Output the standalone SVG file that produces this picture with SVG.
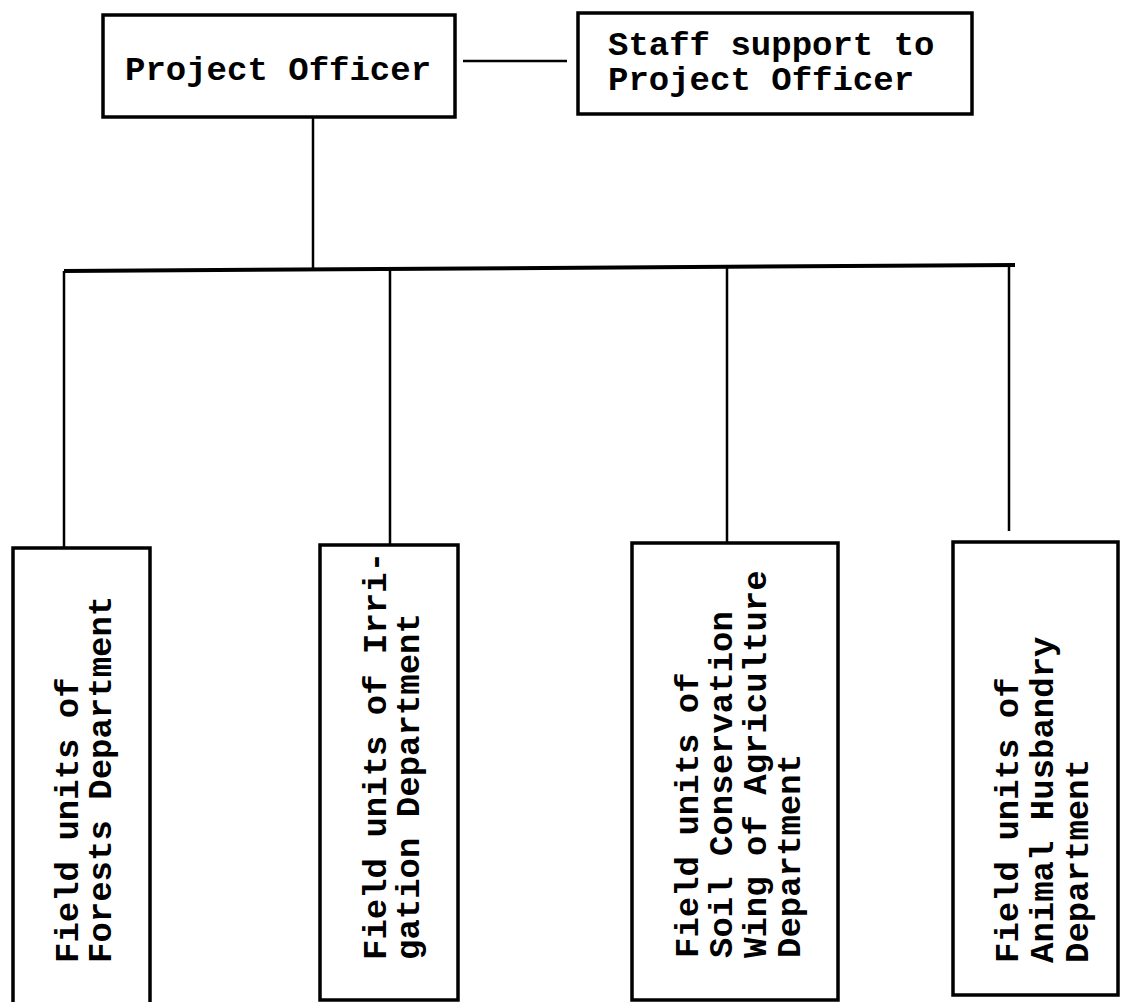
<svg xmlns="http://www.w3.org/2000/svg" width="1121" height="1002" viewBox="0 0 1121 1002">
<style>
.box{fill:none;stroke:#000;stroke-width:3.5}
.ln{fill:none;stroke:#000;stroke-width:2.5}
.bar{fill:none;stroke:#000;stroke-width:4}
.t{font-family:"Liberation Mono","Courier New",monospace;font-weight:bold;font-size:34px;fill:#000}
</style>
<rect width="1121" height="1002" fill="#fff"/>
<g id="connectors">
<line class="ln" x1="463" y1="61" x2="567" y2="61"/>
<line class="ln" x1="313" y1="117" x2="313" y2="268"/>
<line class="bar" x1="64" y1="271" x2="1015" y2="265"/>
<line class="ln" x1="64" y1="271" x2="64" y2="548"/>
<line class="ln" x1="390" y1="269" x2="390" y2="545"/>
<line class="ln" x1="727" y1="267" x2="727" y2="543"/>
<line class="ln" x1="1009" y1="265" x2="1009" y2="531"/>
</g>
<g id="project-officer">
<rect class="box" x="103" y="15" width="352" height="102"/>
<text class="t" x="125" y="80">Project Officer</text>
</g>
<g id="staff-support">
<rect class="box" x="578" y="13" width="394" height="101"/>
<text class="t"><tspan x="608" y="55">Staff support to</tspan><tspan x="608" y="90">Project Officer</tspan></text>
</g>
<g id="forests">
<rect class="box" x="13" y="548" width="137" height="470"/>
<text class="t" transform="translate(78,963) rotate(-90)"><tspan x="0" y="0">Field units of</tspan><tspan x="0" y="33">Forests Department</tspan></text>
</g>
<g id="irrigation">
<rect class="box" x="320" y="545" width="138" height="455"/>
<text class="t" transform="translate(386,960) rotate(-90)"><tspan x="0" y="0">Field units of Irri-</tspan><tspan x="0" y="33">gation Department</tspan></text>
</g>
<g id="soil-conservation">
<rect class="box" x="632" y="543" width="206" height="457"/>
<text class="t" transform="translate(698,958) rotate(-90)"><tspan x="0" y="0">Field units of</tspan><tspan x="0" y="34">Soil Conservation</tspan><tspan x="0" y="68">Wing of Agriculture</tspan><tspan x="0" y="102">Department</tspan></text>
</g>
<g id="animal-husbandry">
<rect class="box" x="953" y="542" width="165" height="453"/>
<text class="t" transform="translate(1018,963) rotate(-90)"><tspan x="0" y="0">Field units of</tspan><tspan x="0" y="35">Animal Husbandry</tspan><tspan x="0" y="70">Department</tspan></text>
</g>
</svg>
